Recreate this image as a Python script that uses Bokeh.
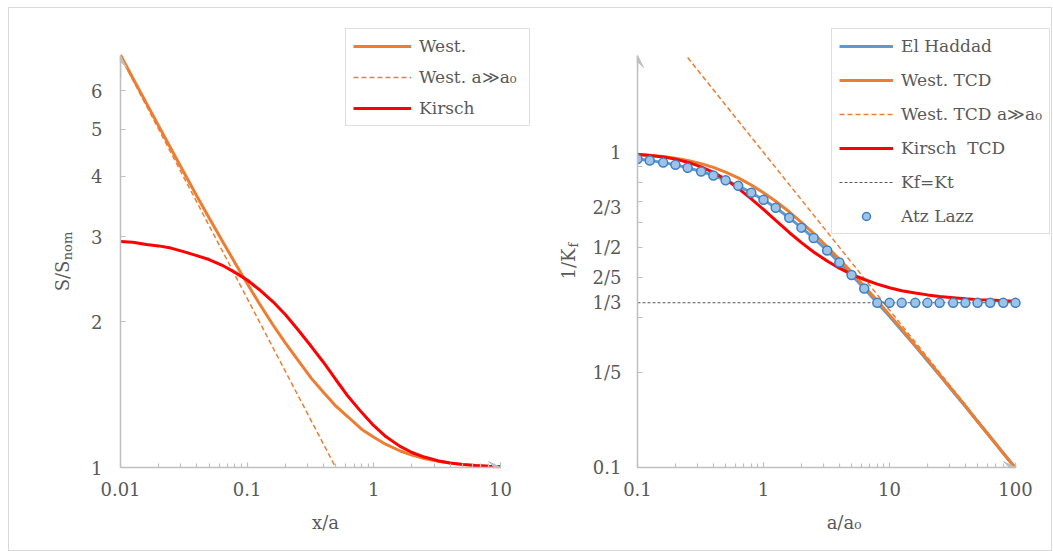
import math
from bokeh.plotting import figure
from bokeh.models import (FixedTicker, Legend, LegendItem, Arrow, VeeHead,
                          Range1d, BasicTickFormatter)
from bokeh.core.properties import value
from bokeh.layouts import row
from bokeh.embed import file_html
from bokeh.resources import INLINE

# ---------------- data ----------------
# left panel: x/a
x_over_a = [0.01, 0.0125, 0.016, 0.02, 0.025, 0.032, 0.04, 0.05, 0.063, 0.08,
            0.1, 0.125, 0.16, 0.2, 0.25, 0.32, 0.4, 0.5, 0.63, 0.8,
            1, 1.25, 1.6, 2, 2.5, 3.2, 4, 5, 6.3, 8, 10]
west = [7.12, 6.38, 5.66, 5.08, 4.56, 4.05, 3.64, 3.28, 2.95, 2.65,
        2.40, 2.18, 1.97, 1.81, 1.67, 1.53, 1.43, 1.34, 1.27, 1.20,
        1.155, 1.116, 1.083, 1.061, 1.044, 1.030, 1.021, 1.014, 1.010, 1.006, 1.004]
kirsch = [2.93, 2.92, 2.89, 2.87, 2.84, 2.79, 2.74, 2.69, 2.62, 2.53,
          2.44, 2.33, 2.20, 2.07, 1.93, 1.78, 1.65, 1.52, 1.40, 1.30,
          1.22, 1.157, 1.107, 1.074, 1.051, 1.033, 1.022, 1.015, 1.010, 1.006, 1.004]
west_asym_x = [0.01, 0.5]
west_asym_y = [7.07, 1.0]

# right panel: a/a0
a_over_a0 = [0.1, 0.125, 0.16, 0.2, 0.25, 0.32, 0.4, 0.5, 0.63, 0.8,
             1, 1.25, 1.6, 2, 2.5, 3.2, 4, 5, 6.3, 8,
             10, 12.5, 16, 20, 25, 32, 40, 50, 63, 80, 100]
el_haddad = [0.953, 0.943, 0.928, 0.913, 0.894, 0.870, 0.845, 0.816, 0.783, 0.745,
             0.707, 0.667, 0.620, 0.577, 0.535, 0.488, 0.447, 0.408, 0.370, 0.333,
             0.302, 0.272, 0.243, 0.218, 0.196, 0.174, 0.156, 0.140, 0.125, 0.111, 0.0995]
west_tcd = [0.986, 0.980, 0.970, 0.958, 0.943, 0.921, 0.896, 0.866, 0.830, 0.788,
            0.745, 0.700, 0.648, 0.600, 0.553, 0.502, 0.458, 0.417, 0.376, 0.338,
            0.305, 0.275, 0.244, 0.220, 0.197, 0.175, 0.157, 0.140, 0.125, 0.111, 0.0996]
kirsch_tcd = [0.985, 0.978, 0.967, 0.952, 0.931, 0.900, 0.864, 0.821, 0.769, 0.712,
              0.659, 0.608, 0.557, 0.517, 0.483, 0.452, 0.429, 0.410, 0.395, 0.382,
              0.372, 0.364, 0.358, 0.353, 0.349, 0.346, 0.343, 0.341, 0.340, 0.338, 0.337]
atz_lazz = [0.953, 0.943, 0.928, 0.913, 0.894, 0.870, 0.845, 0.816, 0.783, 0.745,
            0.707, 0.667, 0.620, 0.577, 0.535, 0.488, 0.447, 0.408, 0.370, 0.333,
            0.333, 0.333, 0.333, 0.333, 0.333, 0.333, 0.333, 0.333, 0.333, 0.333, 0.333]
west_tcd_asym_x = [0.25, 100]
west_tcd_asym_y = [2.0, 0.1]
kf_kt_x = [0.1, 100]
kf_kt_y = [1 / 3, 1 / 3]

left_x_ticks = [0.01, 0.1, 1, 10]
left_x_labels = ["0.01", "0.1", "1", "10"]
left_y_ticks = [1, 2, 3, 4, 5, 6]
left_y_labels = ["1", "2", "3", "4", "5", "6"]
right_x_ticks = [0.1, 1, 10, 100]
right_x_labels = ["0.1", "1", "10", "100"]
right_y_ticks = [0.1, 0.2, 1 / 3, 0.4, 0.5, 2 / 3, 1]
right_y_labels = ["0.1", "1/5", "1/3", "2/5", "1/2", "2/3", "1"]
right_y_minor = [0.2, 0.3, 0.4, 0.5, 0.6, 0.7, 0.8, 0.9]

# axis extents (values at the ends of the drawn axis lines)
left_x_axis = (0.01, 10)
left_y_axis = (1, 7.1)
right_x_axis = (0.1, 100)
right_y_axis = (0.1, 2.03)

# ---------------- styling / layout ----------------
FONT = "DejaVu Serif"
TXT = "#595959"
AX = "#bfbfbf"
ORANGE = "#ED7D31"
RED = "#FF0000"
BLUE = "#5B9BD5"

CANVAS_H = 542
TOP = 20          # canvas top -> top of frame (room for legends)
AXIS_H = 412      # pixel length of the y axis lines
FRAME_H = AXIS_H + 27
BOTTOM = CANVAS_H - TOP - FRAME_H


def log_extend(lo, hi, axis_px, frame_px):
    a, b = math.log10(lo), math.log10(hi)
    return 10 ** (a + (b - a) * frame_px / axis_px)


def decade_minors(start, stop):
    out = []
    d = start
    while d < stop * 0.999:
        out += [d * m for m in range(2, 10)]
        d *= 10
    return out


def base_style(p):
    p.outline_line_color = None
    p.xgrid.visible = False
    p.ygrid.visible = False
    p.background_fill_color = "white"
    p.border_fill_color = "white"
    for ax in p.axis:
        ax.axis_line_color = AX
        ax.axis_line_width = 1.5
        ax.major_tick_line_color = AX
        ax.minor_tick_line_color = AX
        ax.major_tick_line_width = 1.2
        ax.minor_tick_line_width = 1.2
        ax.major_tick_out = 0
        ax.minor_tick_out = 0
        ax.major_label_text_font = FONT
        ax.major_label_text_font_size = "18px"
        ax.major_label_text_color = TXT
        ax.axis_label_text_font = FONT
        ax.axis_label_text_font_size = "18px"
        ax.axis_label_text_font_style = "normal"
        ax.axis_label_text_color = TXT
        ax.formatter = BasicTickFormatter()


def set_axis(ax, ticks, labels, minor, tick_in, minor_in, standoff, bounds):
    ax.ticker = FixedTicker(ticks=ticks, minor_ticks=minor)
    ax.major_label_overrides = {float(t): l for t, l in zip(ticks, labels)}
    ax.major_tick_in = tick_in
    ax.minor_tick_in = minor_in
    ax.major_label_standoff = standoff
    ax.bounds = bounds


def add_arrows(p, xr, yr):
    head = dict(size=12, fill_color=AX, line_color=AX, line_width=1)
    p.add_layout(Arrow(end=VeeHead(**head), x_start=xr[0], y_start=yr[1] * 0.9,
                       x_end=xr[0], y_end=yr[1], line_color=AX, line_width=1.5))
    p.add_layout(Arrow(end=VeeHead(**head), x_start=xr[1] * 0.8, y_start=yr[0],
                       x_end=xr[1], y_end=yr[0], line_color=AX, line_width=1.5))


def title_fig(width, parts):
    # narrow canvas holding a vertical axis title; its frame is aligned with the
    # neighbouring plot frame, so y is measured in pixels above the x axis line
    t = figure(width=width, height=CANVAS_H, x_range=Range1d(0, width), y_range=Range1d(0, FRAME_H),
               x_axis_location=None, y_axis_location=None, min_border=0,
               output_backend="svg", toolbar_location=None)
    t.outline_line_color = None
    t.xgrid.visible = False
    t.ygrid.visible = False
    for (tx, ty, s, size) in parts:
        t.text(x=[tx], y=[ty], text=[s], angle=math.pi / 2, text_align="center",
               text_baseline="middle", text_font=value(FONT), text_font_size=size,
               text_color=TXT)
    return t


# ---------------- left title + figure ----------------
t1 = title_fig(71, [(53, 191.5, "S/S", "18px"), (58, 221.5, "nom", "13px")])

L_AXIS_W = 380
L_FRAME_W = 410
lx_end = log_extend(*left_x_axis, L_AXIS_W, L_FRAME_W)
ly_end = log_extend(*left_y_axis, AXIS_H, FRAME_H)
p1 = figure(frame_width=L_FRAME_W, frame_height=FRAME_H, x_axis_type="log", y_axis_type="log",
            x_range=Range1d(left_x_axis[0], lx_end), y_range=Range1d(left_y_axis[0], ly_end),
            min_border_left=40, min_border_right=0, min_border_top=TOP, min_border_bottom=BOTTOM,
            output_backend="svg", toolbar_location=None)
base_style(p1)
set_axis(p1.xaxis[0], left_x_ticks, left_x_labels, decade_minors(0.01, 10), 5, 4, 14, left_x_axis)
set_axis(p1.yaxis[0], left_y_ticks, left_y_labels, [], 5, 0, 18, left_y_axis)
p1.xaxis.axis_label = "x/a"
p1.xaxis.axis_label_standoff = 13

r_w = p1.line(x_over_a, west, line_color=ORANGE, line_width=3)
r_wa = p1.line(west_asym_x, west_asym_y, line_color=ORANGE, line_width=1.5, line_dash="5 3")
r_k = p1.line(x_over_a, kirsch, line_color=RED, line_width=3)
add_arrows(p1, left_x_axis, left_y_axis)

leg1 = Legend(items=[LegendItem(label="West.", renderers=[r_w]),
                     LegendItem(label="West. a\u226Ba\u2080", renderers=[r_wa]),
                     LegendItem(label="Kirsch", renderers=[r_k])],
              location=(225, 341), margin=0, padding=7, spacing=11,
              glyph_width=58, glyph_height=20, label_standoff=8, label_width=103,
              label_text_font=FONT, label_text_font_size="17px", label_text_color=TXT,
              border_line_color=AX, border_line_width=1.2, background_fill_alpha=1)
p1.add_layout(leg1)

# ---------------- right title + figure ----------------
t2 = title_fig(55, [(38, 203.5, "1/K", "18px"), (43, 222.5, "f", "13px")])

R_AXIS_W = 378
R_FRAME_W = 413
rx_end = log_extend(*right_x_axis, R_AXIS_W, R_FRAME_W)
ry_end = log_extend(*right_y_axis, AXIS_H, FRAME_H)
p2 = figure(frame_width=R_FRAME_W, frame_height=FRAME_H, x_axis_type="log", y_axis_type="log",
            x_range=Range1d(right_x_axis[0], rx_end), y_range=Range1d(right_y_axis[0], ry_end),
            min_border_left=52, min_border_right=1, min_border_top=TOP, min_border_bottom=BOTTOM,
            output_backend="svg", toolbar_location=None)
base_style(p2)
set_axis(p2.xaxis[0], right_x_ticks, right_x_labels, decade_minors(0.1, 100), 5, 4, 14, right_x_axis)
set_axis(p2.yaxis[0], right_y_ticks, right_y_labels, right_y_minor, 0, 5, 16, right_y_axis)
p2.xaxis.axis_label = "a/a\u2080"
p2.xaxis.axis_label_standoff = 13

r_eh = p2.line(a_over_a0, el_haddad, line_color=BLUE, line_width=3)
r_wt = p2.line(a_over_a0, west_tcd, line_color=ORANGE, line_width=3)
r_wta = p2.line(west_tcd_asym_x, west_tcd_asym_y, line_color=ORANGE, line_width=1.5, line_dash="5 3")
r_kt = p2.line(a_over_a0, kirsch_tcd, line_color=RED, line_width=3)
r_kf = p2.line(kf_kt_x, kf_kt_y, line_color="#595959", line_width=1, line_dash="3 2")
r_al = p2.scatter(a_over_a0, atz_lazz, marker="circle", size=9, fill_color="#9DC3E6",
                  line_color="#3F7FC4", line_width=1.5)
add_arrows(p2, right_x_axis, right_y_axis)

leg2 = Legend(items=[LegendItem(label="El Haddad", renderers=[r_eh]),
                     LegendItem(label="West. TCD", renderers=[r_wt]),
                     LegendItem(label="West. TCD a\u226Ba\u2080", renderers=[r_wta]),
                     LegendItem(label="Kirsch  TCD", renderers=[r_kt]),
                     LegendItem(label="Kf=Kt", renderers=[r_kf]),
                     LegendItem(label="Atz Lazz", renderers=[r_al])],
              location=(194, 233), margin=0, padding=7, spacing=14,
              glyph_width=54, glyph_height=20, label_standoff=8, label_width=140,
              label_text_font=FONT, label_text_font_size="17px", label_text_color=TXT,
              border_line_color=AX, border_line_width=1.2, background_fill_alpha=1)
p2.add_layout(leg2)

layout = row(t1, p1, t2, p2,
             styles={"border": "1px solid #d9d9d9", "margin-left": "8px", "margin-top": "7px"})

open("out.html", "w").write(file_html(layout, INLINE))
